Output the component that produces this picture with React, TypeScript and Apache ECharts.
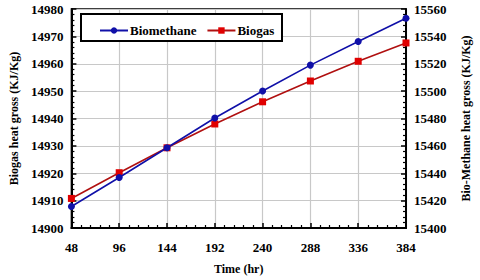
import React, { useEffect, useRef } from "react";
import * as echarts from "echarts";

const times = [48, 96, 144, 192, 240, 288, 336, 384];
const biomethane = [15415.7, 15436.9, 15458.6, 15480.4, 15500.1, 15519.0, 15536.3, 15553.3];
const biogas = [14910.8, 14920.2, 14929.3, 14938.0, 14946.1, 14953.7, 14960.9, 14967.6];

const FONT = "Liberation Serif";

export default function App() {
  const ref = useRef<HTMLDivElement>(null);
  useEffect(() => {
    if (!ref.current) return;
    const chart = echarts.init(ref.current, undefined, { renderer: "svg" });
    const axisLabel = {
      color: "#000",
      fontFamily: FONT,
      fontWeight: "bold" as const,
      fontSize: 13,
      formatter: (v: number) => String(v),
    };
    const nameStyle = { color: "#000", fontFamily: FONT, fontWeight: "bold" as const, fontSize: 12 };
    chart.setOption({
      animation: false,
      backgroundColor: "#fff",
      textStyle: { fontFamily: FONT },
      grid: { left: 61, right: 64, top: 9, bottom: 50, show: true, borderColor: "#000", borderWidth: 1.5, backgroundColor: "transparent" },
      legend: {
        left: 94,
        top: 19,
        z: 20,
        itemGap: 10,
        itemWidth: 28,
        itemHeight: 8,
        textStyle: { color: "#000", fontFamily: FONT, fontWeight: "bold", fontSize: 13, padding: [0, 0, 0, -3] },
        data: ["Biomethane", "Biogas"],
      },
      graphic: [
        {
          type: "rect",
          shape: { x: 81, y: 14, width: 201, height: 27 },
          style: { fill: "#fff", stroke: "#000", lineWidth: 2 },
          z: 3,
        },
      ],
      xAxis: {
        type: "value",
        min: 48,
        max: 384,
        interval: 48,
        name: "Time (hr)",
        nameLocation: "middle",
        nameGap: 35,
        nameTextStyle: nameStyle,
        axisLine: { lineStyle: { color: "#000", width: 2 } },
        axisTick: { inside: true, length: 5, lineStyle: { color: "#000", width: 1.5 } },
        minorTick: { show: true, splitNumber: 5, length: 3, lineStyle: { color: "#000", width: 1.2 } },
        axisLabel: { ...axisLabel, margin: 13 },
        splitLine: { show: true, lineStyle: { color: "#c8c8c8", width: 1.2 } },
      },
      yAxis: [
        {
          type: "value",
          min: 14900,
          max: 14980,
          interval: 10,
          position: "left",
          name: "Biogas heat gross (KJ/Kg)",
          nameLocation: "middle",
          nameGap: 51,
          nameTextStyle: nameStyle,
          axisLine: { show: true, lineStyle: { color: "#000", width: 2 } },
          axisTick: { show: true, inside: true, length: 5, lineStyle: { color: "#000", width: 1.5 } },
          minorTick: { show: true, splitNumber: 5, length: 3, lineStyle: { color: "#000", width: 1.2 } },
          axisLabel: { ...axisLabel, margin: 8 },
          splitLine: { show: true, lineStyle: { color: "#c8c8c8", width: 1.2 } },
        },
        {
          type: "value",
          min: 15400,
          max: 15560,
          interval: 20,
          position: "right",
          name: "Bio-Methane heat gross (KJ/Kg)",
          nameLocation: "middle",
          nameGap: 54,
          nameRotate: 90,
          nameTextStyle: nameStyle,
          axisLine: { show: true, lineStyle: { color: "#000", width: 2 } },
          axisTick: { show: true, inside: true, length: 5, lineStyle: { color: "#000", width: 1.5 } },
          minorTick: { show: true, splitNumber: 5, length: 3, lineStyle: { color: "#000", width: 1.2 } },
          axisLabel: { ...axisLabel, margin: 8 },
          splitLine: { show: false },
        },
      ],
      series: [
        {
          name: "Biomethane",
          type: "line",
          yAxisIndex: 1,
          data: times.map((t, i) => [t, biomethane[i]]),
          symbol: "circle",
          symbolSize: 7,
          color: "#1010a8",
          lineStyle: { width: 1.6, color: "#1010a8" },
          itemStyle: { color: "#1010a8" },
          z: 3,
        },
        {
          name: "Biogas",
          type: "line",
          yAxisIndex: 0,
          data: times.map((t, i) => [t, biogas[i]]),
          symbol: "rect",
          symbolSize: 7,
          color: "#c00000",
          lineStyle: { width: 1.6, color: "#b01010" },
          itemStyle: { color: "#e00000" },
          z: 2,
        },
      ],
    });
    return () => chart.dispose();
  }, []);
  return <div ref={ref} style={{ width: 480, height: 280, position: "fixed", left: 0, top: 0 }} />;
}
